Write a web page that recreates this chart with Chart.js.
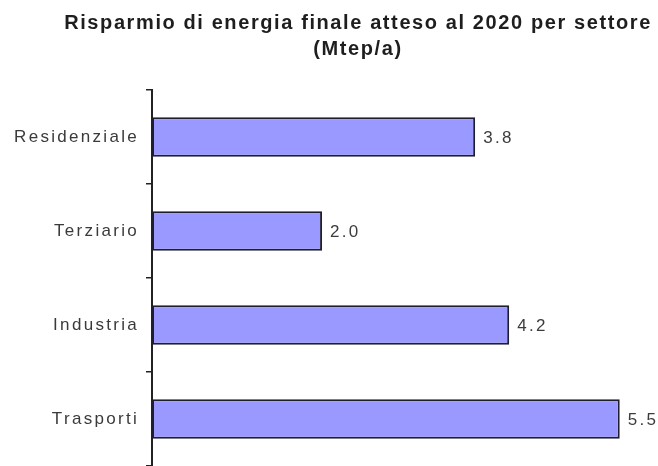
<!DOCTYPE html>
<html>
<head>
<meta charset="utf-8">
<script src="https://cdn.jsdelivr.net/npm/chart.js@4"></script>
<style>
  html, body { margin:0; padding:0; background:#fff; }
  #wrap { width:658px; height:466px; }
</style>
</head>
<body>
<div id="wrap"><canvas id="c"></canvas></div>
<script>
const sectors = ['Residenziale','Terziario','Industria','Trasporti'];
const savings = [3.8, 2.0, 4.2, 5.5];
const titleLines = ['Risparmio di energia finale atteso al 2020 per settore','(Mtep/a)'];

const FONT = '"Liberation Sans", Arial, sans-serif';

// the source picture has very loose letter spacing, canvas can do that directly
const spacing = {
  id:'spacing',
  beforeLayout(chart){ chart.ctx.letterSpacing = '2.3px'; },
  beforeDraw(chart){ chart.ctx.letterSpacing = '2.3px'; }
};

// two-line bold title, centred a bit right of the canvas middle like the source
const bigTitle = {
  id:'bigTitle',
  afterDraw(chart){
    const ctx = chart.ctx;
    ctx.save();
    ctx.letterSpacing = '1.6px';
    ctx.font = 'bold 20px ' + FONT;
    ctx.fillStyle = '#1e1e1e';
    ctx.textAlign = 'center';
    ctx.textBaseline = 'middle';
    titleLines.forEach((t, i) => ctx.fillText(t, 358, 23 + i * 26));
    ctx.restore();
  }
};

// value next to each bar
const valueLabels = {
  id:'valueLabels',
  afterDatasetsDraw(chart){
    const ctx = chart.ctx;
    const meta = chart.getDatasetMeta(0);
    ctx.save();
    ctx.letterSpacing = '2.3px';
    ctx.font = '17px ' + FONT;
    ctx.fillStyle = '#3c3c3c';
    ctx.textAlign = 'left';
    ctx.textBaseline = 'middle';
    meta.data.forEach((bar, i) => {
      ctx.fillText(savings[i].toFixed(1), bar.x + 8, bar.y + 1);
    });
    ctx.restore();
  }
};

new Chart(document.getElementById('c'), {
  type:'bar',
  data:{
    labels: sectors,
    datasets:[{
      data: savings,
      backgroundColor:'#9999ff',
      borderColor:'#1e1e2e',
      borderWidth:2,
      borderSkipped:false,
      categoryPercentage:1,
      barPercentage:0.42
    }]
  },
  options:{
    indexAxis:'y',
    responsive:true,
    maintainAspectRatio:false,
    animation:false,
    layout:{ padding:{ left:0, right:0, top:90, bottom:0 } },
    plugins:{
      legend:{ display:false },
      tooltip:{ enabled:false },
      title:{ display:false }
    },
    scales:{
      x:{ display:false, min:0, max:5.95 },
      y:{
        // fixed width so the axis sits at x=152, and no label padding at the ends
        afterFit: s => { s.width = 152; s.paddingTop = 0; s.paddingBottom = 0; },
        grid:{ display:true, drawOnChartArea:false, drawTicks:true, tickLength:6, offset:true, color:'#222', lineWidth:1.5 },
        border:{ display:true, color:'#222', width:2 },
        ticks:{
          color:'#3a3a3a',
          padding:7,
          font:{ family:FONT, size:17 }
        }
      }
    }
  },
  plugins:[spacing, valueLabels, bigTitle]
});
</script>
</body>
</html>
